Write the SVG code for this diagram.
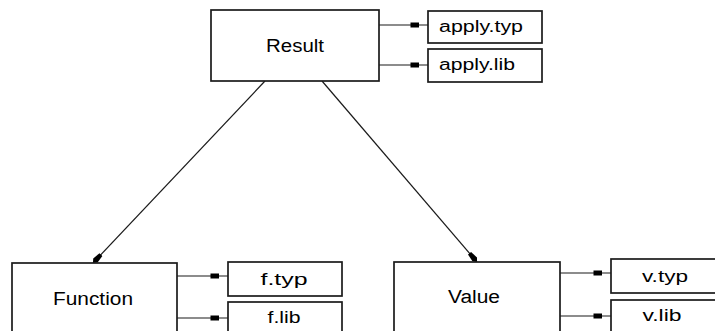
<svg xmlns="http://www.w3.org/2000/svg" width="715" height="331" viewBox="0 0 715 331">
  <defs>
    <style>
      .box { fill: #ffffff; stroke: #1a1a1a; stroke-width: 1.7; }
      .conn { fill: none; stroke: #1a1a1a; stroke-width: 1.2; }
      .lbl { font-family: "Liberation Sans", Arial, sans-serif; fill: #000000; text-anchor: middle; }
      .big { font-size: 18px; }
      .small { font-size: 16px; }
    </style>
    <marker id="sq" markerUnits="userSpaceOnUse" markerWidth="20" markerHeight="6" viewBox="0 0 20 6" refX="20" refY="3" orient="auto">
      <rect x="2.5" y="0.5" width="8.5" height="5" fill="#000000"/>
    </marker>
    <marker id="arr" markerUnits="userSpaceOnUse" markerWidth="12" markerHeight="7" viewBox="0 0 12 7" refX="11.5" refY="3.5" orient="auto">
      <path d="M0,1.5 L8,0.5 L11.5,3.5 L8,6.5 L0,5.5 z" fill="#000000"/>
    </marker>
  </defs>
  <rect width="715" height="331" fill="#ffffff"/>

  <g id="connectors">
    <line class="conn" x1="265" y1="81" x2="93" y2="263" marker-end="url(#arr)"/>
    <line class="conn" x1="322" y1="81" x2="477" y2="262" marker-end="url(#arr)"/>
    <line class="conn" x1="376" y1="25" x2="428" y2="25" marker-end="url(#sq)"/>
    <line class="conn" x1="379" y1="65" x2="428" y2="65" marker-end="url(#sq)"/>
    <line class="conn" x1="177" y1="276" x2="228" y2="276" marker-end="url(#sq)"/>
    <line class="conn" x1="177" y1="318" x2="228" y2="318" marker-end="url(#sq)"/>
    <line class="conn" x1="557" y1="273" x2="611" y2="273" marker-end="url(#sq)"/>
    <line class="conn" x1="560" y1="316" x2="611" y2="316" marker-end="url(#sq)"/>
  </g>

  <g id="result">
    <rect class="box" x="211" y="10" width="168" height="71"/>
    <text class="lbl big" x="295" y="52" textLength="58" lengthAdjust="spacingAndGlyphs">Result</text>
  </g>
  <g id="apply-typ">
    <rect class="box" x="428" y="11" width="114" height="32"/>
    <text class="lbl small" x="481" y="32" textLength="84" lengthAdjust="spacingAndGlyphs">apply.typ</text>
  </g>
  <g id="apply-lib">
    <rect class="box" x="428" y="49" width="114" height="33"/>
    <text class="lbl small" x="477" y="70" textLength="76" lengthAdjust="spacingAndGlyphs">apply.lib</text>
  </g>

  <g id="function">
    <rect class="box" x="12" y="263" width="165" height="80"/>
    <text class="lbl big" x="93" y="305" textLength="80" lengthAdjust="spacingAndGlyphs">Function</text>
  </g>
  <g id="f-typ">
    <rect class="box" x="228" y="262" width="114" height="34"/>
    <text class="lbl small" x="284" y="285" textLength="47" lengthAdjust="spacingAndGlyphs">f.typ</text>
  </g>
  <g id="f-lib">
    <rect class="box" x="228" y="302" width="114" height="40"/>
    <text class="lbl small" x="284" y="323" textLength="33" lengthAdjust="spacingAndGlyphs">f.lib</text>
  </g>

  <g id="value">
    <rect class="box" x="394" y="262" width="166" height="80"/>
    <text class="lbl big" x="474" y="303" textLength="52" lengthAdjust="spacingAndGlyphs">Value</text>
  </g>
  <g id="v-typ">
    <rect class="box" x="611" y="259" width="114" height="34"/>
    <text class="lbl small" x="665" y="282" textLength="46" lengthAdjust="spacingAndGlyphs">v.typ</text>
  </g>
  <g id="v-lib">
    <rect class="box" x="611" y="300" width="114" height="40"/>
    <text class="lbl small" x="662" y="321" textLength="39" lengthAdjust="spacingAndGlyphs">v.lib</text>
  </g>
</svg>
